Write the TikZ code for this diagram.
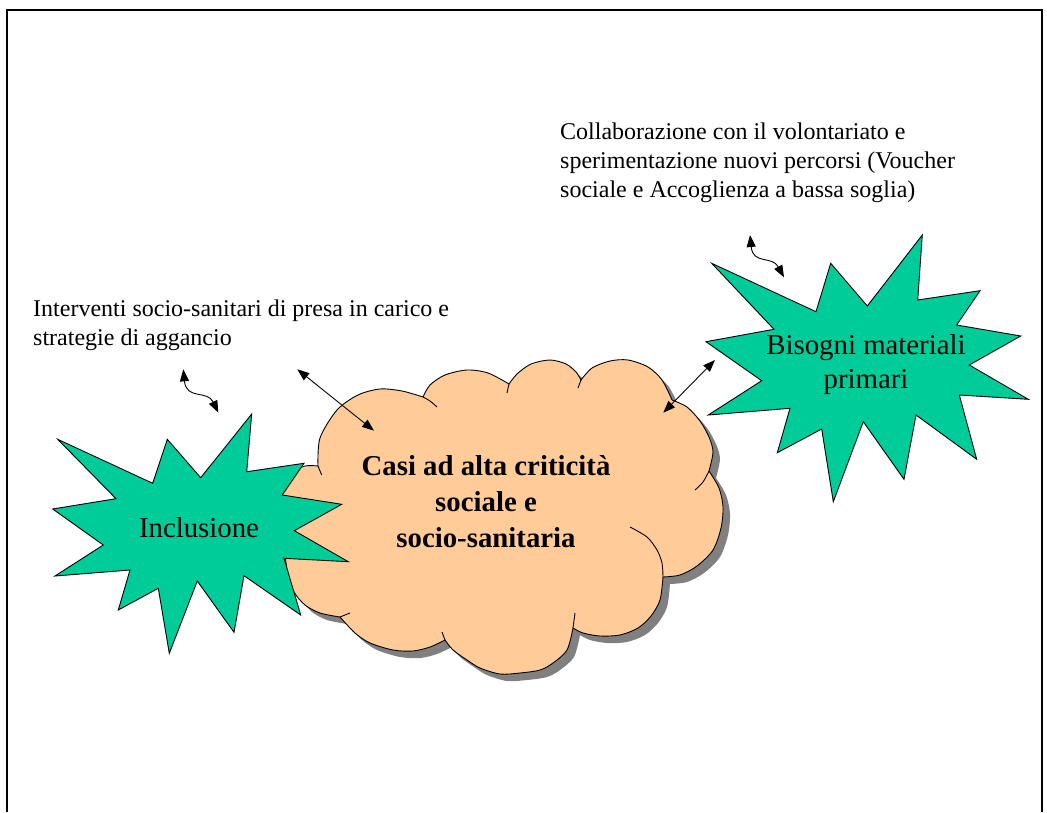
\documentclass[tikz,border=0pt]{standalone}
\usepackage{fontspec}
\setmainfont{Liberation Serif}
\usetikzlibrary{arrows.meta}
\definecolor{burst}{HTML}{00CC99}
\definecolor{cloudfill}{HTML}{FFCC99}
\definecolor{cloudshade}{HTML}{808080}

% outline of the cloud: one smooth bulge between each pair of cusps
\newcommand\cloudoutline{%
(318,466)
-- plot[smooth] coordinates {(318,466) (320,438) (337,410) (358,395) (380,389) (402,391) (423,397)}
-- plot[smooth] coordinates {(423,397) (430,385) (445,375) (467,370) (488,373) (509,384)}
-- plot[smooth] coordinates {(509,384) (517,374) (531,364) (550,360) (566,364) (576,372) (581,380)}
-- plot[smooth] coordinates {(581,380) (592,368) (610,361) (628,360) (648,367) (662,380) (672,400)}
-- plot[smooth] coordinates {(672,400) (687,407) (700,421) (709,437) (713,452) (709,471)}
-- plot[smooth] coordinates {(709,471) (719,488) (723,507) (721,528) (713,550) (697,566) (680,575) (663,577)}
-- plot[smooth] coordinates {(663,577) (660,600) (651,616) (638,628) (620,635) (600,636) (583,633) (573,628)}
-- plot[smooth] coordinates {(573,628) (567,650) (553,663) (540,670) (520,673) (500,674) (480,668) (467,660) (453,650) (445,640)}
-- plot[smooth] coordinates {(445,640) (430,647) (413,651) (393,650) (370,643) (355,633) (340,617)}
-- plot[smooth] coordinates {(340,617) (320,613) (305,605) (294,592) (288,575) (285,555) (281,520) (283,490) (292,473) (305,466) (318,466)}
-- cycle}

\begin{document}
\begin{tikzpicture}[x=1pt,y=-1pt,
  burstshape/.style={fill=burst, draw=black, line width=0.9pt, line join=miter},
  cloudline/.style={draw=black, line width=0.9pt},
  label/.style={inner sep=0pt, font=\fontsize{28.8}{34}\selectfont},
  boldlabel/.style={inner sep=0pt, font=\fontsize{28.8}{36}\selectfont\bfseries},
  note/.style={inner sep=0pt, anchor=base west, font=\fontsize{24}{29}\selectfont},
  link/.style={line width=0.9pt, {Triangle[length=12pt,width=9pt]}-{Triangle[length=12pt,width=9pt]}},
  frameline/.style={line width=2pt}
]
\useasboundingbox (0,0) rectangle (1047,812);

% page frame
\draw[frameline] (7,812) -- (7,10) -- (1042,10) -- (1042,812);

% cloud with its drop shadow
\begin{scope}[shift={(7,7)}]
  \fill[cloudshade] \cloudoutline;
\end{scope}
\path[fill=cloudfill, cloudline] \cloudoutline;
% inner creases where the bulges overlap
\draw[cloudline] (318,466) -- (321.7,475);
\draw[cloudline] plot[smooth] coordinates {(423,397) (430,401) (437,407)};
\draw[cloudline] (509,384) -- (507,393);
\draw[cloudline] (581,380) -- (578,388);
\draw[cloudline] plot[smooth] coordinates {(709,471) (703,482) (695,490)};
\draw[cloudline] plot[smooth] coordinates {(630,527) (647,537) (657,550) (662,563) (663,577)};
\draw[cloudline] (573,628) -- (575,613);
\draw[cloudline] (445,640) -- (442,632);
\draw[cloudline] (340,617) -- (350,613);
\node[boldlabel, anchor=base] (casi) at (486,475.7)
  {\begin{tabular}[t]{@{}c@{}}Casi ad alta criticità\\ sociale e\\ socio-sanitaria\end{tabular}};

% starburst on the left
\path[burstshape] (57.7,439.3) -- (152.7,483.3) -- (167.3,439.3) -- (200.7,477.7)
  -- (251.7,414) -- (246.7,471.7) -- (304,463.3) -- (282.3,495) -- (341.7,504.3)
  -- (294.3,530.7) -- (348.3,561.7) -- (284,558.3) -- (300.7,615) -- (244,575.7)
  -- (234,632.3) -- (197.3,581) -- (169.3,653.3) -- (158.3,588.3) -- (118.3,610)
  -- (130,570) -- (55,576) -- (103.3,545) -- (52.7,509) -- (116,498.7) -- cycle;
\node[label, anchor=base] (incl) at (199,537) {Inclusione};

% starburst on the right
\path[burstshape] (711.7,263.3) -- (816,311.7) -- (830.7,263.3) -- (867.3,306)
  -- (922.3,235) -- (917.7,300) -- (980,290.7) -- (956.7,325) -- (1020.7,336)
  -- (969.3,365) -- (1028.3,399.3) -- (959.3,395) -- (976.7,459.3) -- (916,415)
  -- (904,479.3) -- (863.3,421.7) -- (833.3,501.7) -- (821.7,429) -- (777.3,452.7)
  -- (790,408.3) -- (708.3,415) -- (761.7,380.7) -- (706,341.7) -- (774,329.3) -- cycle;
\node[label, anchor=base] (bisogni) at (866,354)
  {\begin{tabular}[t]{@{}c@{}}Bisogni materiali\\ primari\end{tabular}};

% notes
\node[note] (interventi) at (33,316)
  {\begin{tabular}[t]{@{}l@{}}Interventi socio-sanitari di presa in carico e\\ strategie di aggancio\end{tabular}};
\node[note] (collab) at (560,139)
  {\begin{tabular}[t]{@{}l@{}}Collaborazione con il volontariato e\\ sperimentazione nuovi percorsi (Voucher\\ sociale e Accoglienza a bassa soglia)\end{tabular}};

% connector end points
\coordinate (w1a) at (183.3,369.3);
\coordinate (w1b) at (218.3,412.7);
\coordinate (s1a) at (297.3,369.3);
\coordinate (s1b) at (374,430.7);
\coordinate (s2a) at (663.3,412.7);
\coordinate (s2b) at (715,360);
\coordinate (w2a) at (750,235);
\coordinate (w2b) at (784,277.3);

\draw[link] (s1a) -- (s1b);
\draw[link] (s2a) -- (s2b);
\draw[link] (w1a) .. controls +(3,31) and +(-11,-23) .. (w1b);
\draw[link] (w2a) .. controls +(3,30) and +(-12,-22) .. (w2b);
\end{tikzpicture}
\end{document}
